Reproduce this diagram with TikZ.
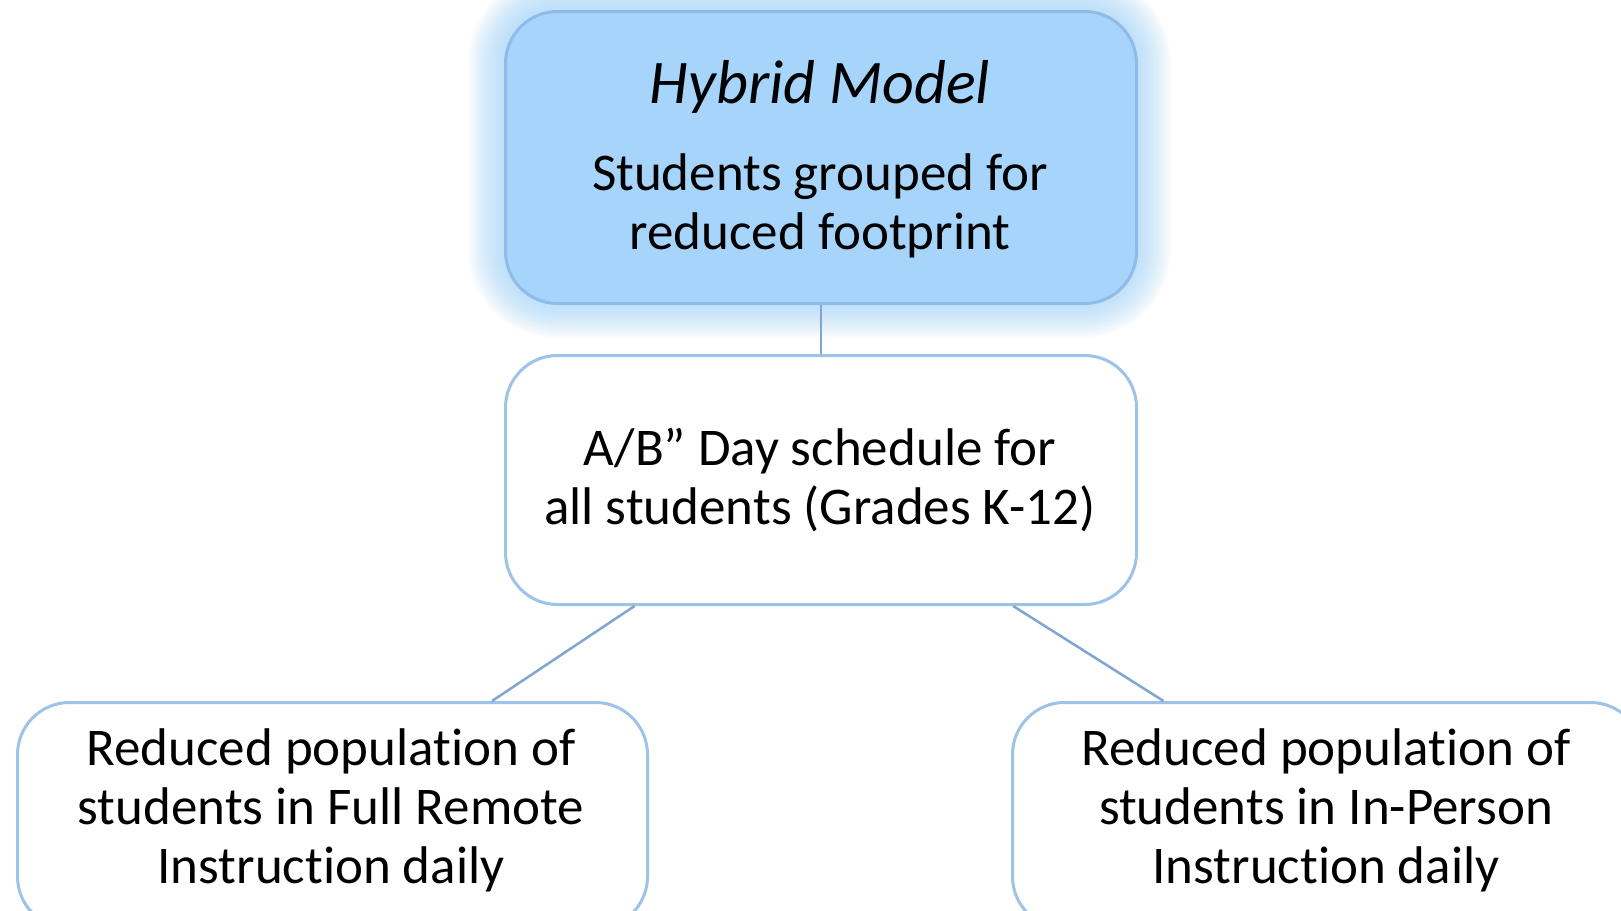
\documentclass[tikz,border=0pt]{standalone}
\usepackage{fontspec}
\setmainfont{Carlito}[RawFeature={-liga;-clig;-calt;-dlig}]
\usetikzlibrary{calc}
\definecolor{topfill}{RGB}{166,212,250}
\definecolor{topedge}{RGB}{143,188,230}
\definecolor{boxedge}{RGB}{157,195,232}
\definecolor{linkcol}{RGB}{126,166,208}
\definecolor{glowcol}{RGB}{160,212,250}
\newcommand{\nolig}{\kern0pt}
\tikzset{
  box/.style={draw=boxedge, line width=3pt, rounded corners=52pt, fill=white,
    minimum width=631pt, inner sep=0pt, anchor=north west},
  topbox/.style={box, fill=topfill, draw=topedge},
  txt/.style={font=\fontsize{53}{59}\selectfont, align=center, inner sep=0pt},
  link/.style={draw=linkcol, line width=2.5pt},
}
\begin{document}
\begin{tikzpicture}[x=1pt,y=-1pt]
\useasboundingbox (0,0) rectangle (1621,910);
\fill[white] (0,0) rectangle (1621,910);
% glow
\foreach \i in {1,...,18}{
  \fill[glowcol, opacity=0.05, rounded corners={52pt+2*\i pt}]
    ({504-2*\i},{10-2*\i}) rectangle ({1135+2*\i},{302+2*\i});
}
\node[topbox, minimum height=292pt] (top) at (504,10) {};
\node[box, minimum height=249pt] (mid) at (504,354) {};
\node[box, minimum width=630pt, minimum height=226pt] (left) at (16,701) {};
\node[box, minimum width=630pt, minimum height=226pt] (right) at (1011,701) {};
% texts
\node[font=\fontsize{62}{62}\selectfont\itshape, inner sep=0pt] (ttl) at (820,87) {Hybrid Model};
\node[txt] (ttx) at (820,206) {Students grouped for\\reduced footprint};
\node[txt] (mtx) at (820,480) {A/B” Day schedule for\\all students (Grades K-12)};
\node[txt] (ltx) at (331,810) {Reduced populat\nolig ion of\\students in Full Remote\\Instruct\nolig ion daily};
\node[txt] (rtx) at (1326,810) {Reduced populat\nolig ion of\\students in In-Person\\Instruct\nolig ion daily};
% connectors
\coordinate (mS1) at ($(mid.south west)!0.206!(mid.south east)$);
\coordinate (mS2) at ($(mid.south west)!0.803!(mid.south east)$);
\coordinate (lN) at ($(left.north west)!0.752!(left.north east)$);
\coordinate (rN) at ($(right.north west)!0.241!(right.north east)$);
\draw[link] (top.south) -- (mid.north);
\draw[link] (mS1) -- (lN);
\draw[link] (mS2) -- (rN);
\end{tikzpicture}
\end{document}
